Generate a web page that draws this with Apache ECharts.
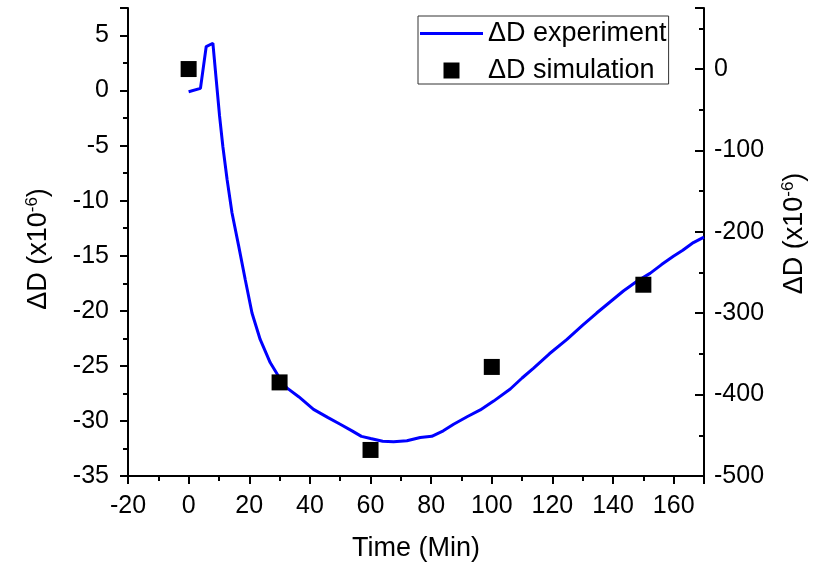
<!DOCTYPE html>
<html>
<head>
<meta charset="utf-8">
<script src="https://cdn.jsdelivr.net/npm/echarts@6/dist/echarts.min.js"></script>
<style>
  html, body { margin: 0; padding: 0; background: #fff; }
  #chart { width: 817px; height: 567px; }
</style>
</head>
<body>
<div id="chart"></div>
<script>
// Measured ΔD over time (left axis, x10^-6)
const experimentTime = [0, 3.9, 5.8, 8.0, 9.1, 10.2, 11.3, 12.7, 14.3, 16.5, 18.7, 20.9, 23.6, 26.9, 30.2, 32.4, 36.3, 41.2, 46, 50, 53.9, 57, 60, 64, 67.6, 72, 76.4, 80.2, 84, 87.4, 92, 96.2, 100.6, 106.1, 110, 113.8, 119, 124.8, 130, 134.6, 139, 143.4, 148, 152.2, 156, 159.9, 163, 166.5, 170];
const experimentDD = [-0.1, 0.2, 4.0, 4.3, 1.0, -2.3, -5.1, -8.1, -11.1, -14.1, -17.2, -20.2, -22.6, -24.7, -26.2, -27.0, -27.8, -28.95, -29.7, -30.3, -30.9, -31.4, -31.6, -31.85, -31.9, -31.8, -31.5, -31.4, -30.9, -30.3, -29.6, -29.0, -28.2, -27.1, -26.1, -25.2, -23.9, -22.6, -21.3, -20.2, -19.2, -18.2, -17.3, -16.6, -15.8, -15.05, -14.5, -13.8, -13.3];

// Simulated ΔD (right axis, x10^-6)
const simulationTime = [0, 30, 60, 100, 150];
const simulationDD = [0, -385, -468, -366, -265];

const seriesNames = ['\u0394D experiment', '\u0394D simulation'];
const axisTitleX = 'Time (Min)';

const FONT = '"Liberation Sans", Arial, sans-serif';
const BLACK = '#000';
const BLUE = '#0000ff';

const axisNameRich = {
  base: { fontFamily: FONT, fontSize: 27, color: BLACK },
  sup: { fontFamily: FONT, fontSize: 17, color: BLACK, verticalAlign: 'bottom', padding: [0, 0, 13, 0] }
};
const yName = '{base|\u0394D (x10}{sup|-6}{base|)}';

const chart = echarts.init(document.getElementById('chart'), null, { renderer: 'canvas' });

chart.setOption({
  animation: false,
  backgroundColor: '#fff',
  grid: { left: 128, right: 113, top: 8, bottom: 90, containLabel: false },
  legend: {
    left: 418,
    top: 16,
    orient: 'vertical',
    itemWidth: 63,
    itemHeight: 16,
    itemGap: 10,
    padding: [4, 2, 0, 2],
    borderColor: '#333',
    borderWidth: 1,
    borderRadius: 0,
    textStyle: { fontFamily: FONT, fontSize: 27, color: BLACK },
    data: [
      { name: seriesNames[0], icon: 'path://M0,0M63,16M0,6.5h63v3h-63z', itemStyle: { color: BLUE, opacity: 1 } },
      { name: seriesNames[1], icon: 'path://M0,0M63,16M23.5,0h16v16h-16z', itemStyle: { color: BLACK, opacity: 1 } }
    ]
  },
  xAxis: {
    type: 'value',
    min: -20,
    max: 170,
    interval: 20,
    name: axisTitleX,
    nameLocation: 'middle',
    nameGap: 59,
    nameTextStyle: { fontFamily: FONT, fontSize: 27, color: BLACK },
    axisLine: { show: true, onZero: false, lineStyle: { color: BLACK, width: 2 } },
    axisTick: { show: true, inside: false, length: 8, lineStyle: { color: BLACK, width: 2 } },
    minorTick: { show: true, splitNumber: 2, length: 5, lineStyle: { color: BLACK, width: 2 } },
    axisLabel: { fontFamily: FONT, fontSize: 25, color: BLACK, margin: 18, showMaxLabel: false },
    splitLine: { show: false }
  },
  yAxis: [
    {
      type: 'value',
      position: 'left',
      min: -35,
      max: 7.5,
      interval: 5,
      name: yName,
      nameLocation: 'middle',
      nameRotate: 90,
      nameGap: 74,
      nameTextStyle: { rich: axisNameRich, padding: [0, 14, 0, 0] },
      axisLine: { show: true, onZero: false, lineStyle: { color: BLACK, width: 2 } },
      axisTick: { show: true, inside: false, length: 8, lineStyle: { color: BLACK, width: 2 } },
      minorTick: { show: true, splitNumber: 2, length: 5, lineStyle: { color: BLACK, width: 2 } },
      axisLabel: { fontFamily: FONT, fontSize: 25, color: BLACK, margin: 19, showMaxLabel: false },
      splitLine: { show: false }
    },
    {
      type: 'value',
      position: 'right',
      min: -500,
      max: 75,
      interval: 100,
      name: yName,
      nameLocation: 'middle',
      nameRotate: 90,
      nameGap: 76,
      nameTextStyle: { rich: axisNameRich, padding: [0, 0, 0, 17] },
      axisLine: { show: true, onZero: false, lineStyle: { color: BLACK, width: 2 } },
      axisTick: { show: true, inside: true, length: 9, lineStyle: { color: BLACK, width: 2 } },
      minorTick: { show: true, splitNumber: 2, length: 5, lineStyle: { color: BLACK, width: 2 } },
      axisLabel: { fontFamily: FONT, fontSize: 25, color: BLACK, margin: 10, showMaxLabel: false },
      splitLine: { show: false }
    }
  ],
  series: [
    {
      name: seriesNames[0],
      type: 'line',
      yAxisIndex: 0,
      data: experimentTime.map((t, i) => [t, experimentDD[i]]),
      showSymbol: false,
      symbol: 'none',
      smooth: false,
      clip: true,
      lineStyle: { color: BLUE, width: 3 },
      itemStyle: { color: BLUE },
      z: 2
    },
    {
      name: seriesNames[1],
      type: 'scatter',
      yAxisIndex: 1,
      data: simulationTime.map((t, i) => [t, simulationDD[i]]),
      symbol: 'rect',
      symbolSize: 16,
      itemStyle: { color: BLACK, opacity: 1 },
      z: 3
    }
  ]
});
</script>
</body>
</html>
